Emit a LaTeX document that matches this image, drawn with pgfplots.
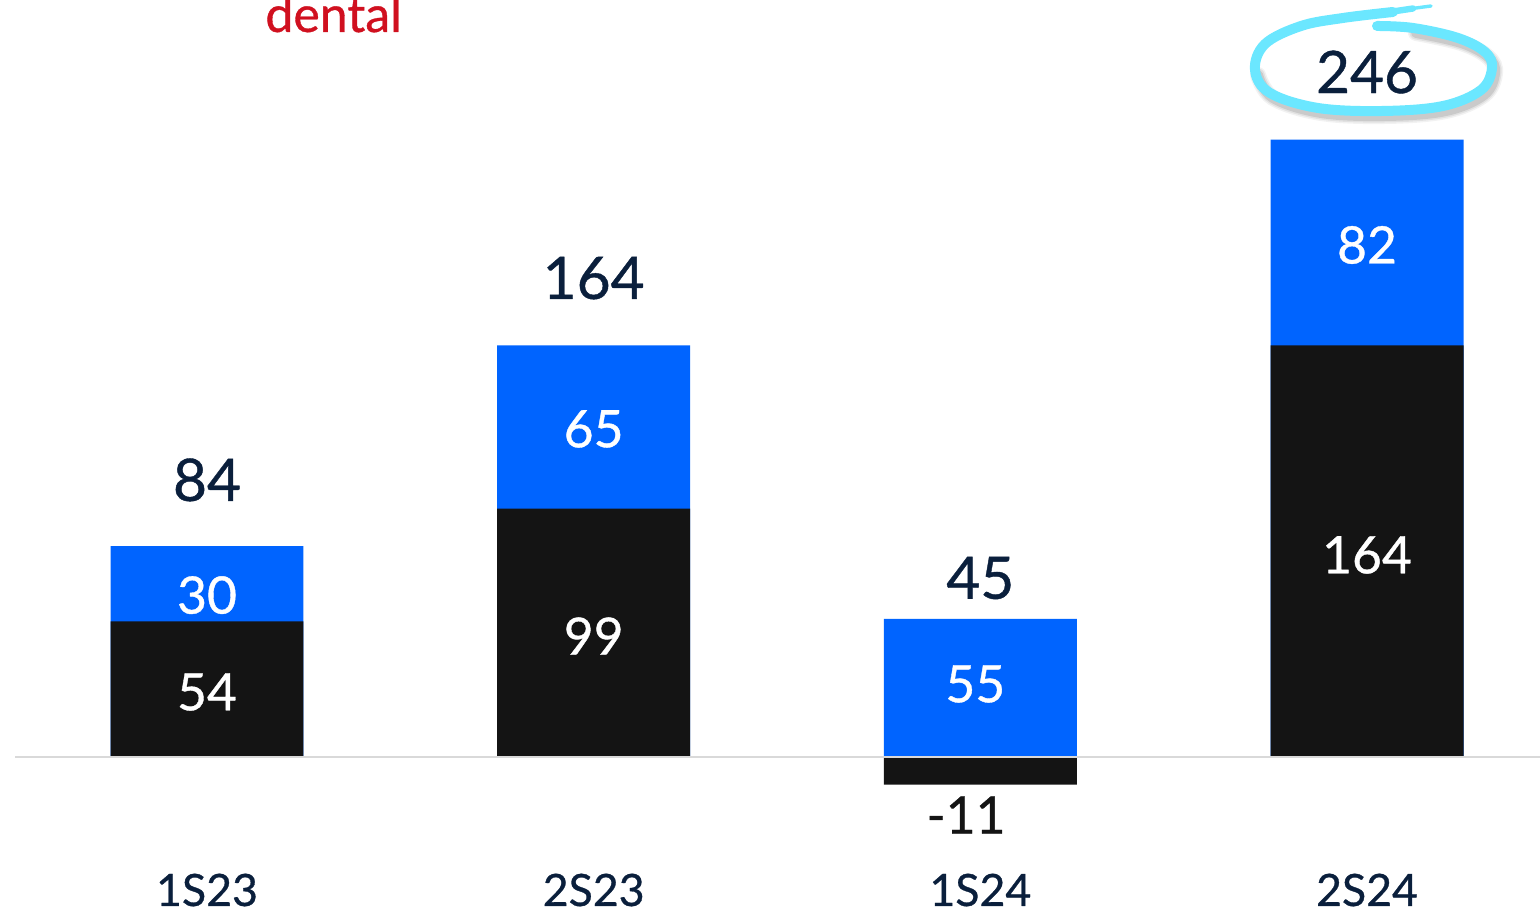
\documentclass[border=0pt]{standalone}
\usepackage{pgfplots}
\pgfplotsset{compat=1.18}
\usepackage{fontspec}
\setmainfont{Lato}[FakeBold=0.7]
\definecolor{barblue}{HTML}{0064FF}
\definecolor{barblack}{HTML}{141414}
\definecolor{navy}{HTML}{0A1F3C}
\definecolor{cyanring}{HTML}{6BE7FF}
\definecolor{dentalred}{HTML}{D0101F}
\definecolor{baseline}{HTML}{D9D9D9}
\newcommand{\tot}{\fontsize{29.3}{32}\selectfont}
\newcommand{\inn}{\fontsize{25.8}{28}\selectfont}
\begin{document}
\begin{tikzpicture}
\begin{axis}[at={(0,0)}, anchor=south west, scale only axis,
  width=762.5pt, height=456.5pt,
  xmin=-0.4966, xmax=3.4474, ymin=-62.15, ymax=301.6,
  axis line style={draw=none}, major tick length=0pt, ytick=\empty,
  xtick={0,1,2,3}, xticklabels={1S23,2S23,1S24,2S24},
  xticklabel style={anchor=base, inner sep=0pt, yshift=3.5pt, font=\fontsize{22.3}{26}\selectfont, text=navy},
  clip=false]
\addplot[ybar, bar width=0.499, bar shift=0pt, fill=barblue, draw=none] coordinates {(0,84) (1,164) (2,55) (3,246)};
\addplot[ybar, bar width=0.499, bar shift=0pt, fill=barblack, draw=none] coordinates {(0,54) (1,99) (2,-11) (3,164)};
\draw[color=baseline, line width=1pt] (axis cs:-0.4966,0) -- (axis cs:3.4474,0);
% totals
\node[text=navy, font=\tot] at (axis cs:0,110.4) {84};
\node[text=navy, font=\tot] at (axis cs:1,190.8) {164};
\node[text=navy, font=\tot] at (axis cs:2,71.3) {45};
\node[text=navy, font=\tot] at (axis cs:3,272.9) {246};
% segment labels
\node[text=white, font=\inn] at (axis cs:0,64.5) {30};
\node[text=white, font=\inn] at (axis cs:0,25.9) {54};
\node[text=white, font=\inn] at (axis cs:1,130.7) {65};
\node[text=white, font=\inn] at (axis cs:1,48.2) {99};
\node[text=white, font=\inn] at (axis cs:1.987,29.1) {55};
\node[text=barblack, font=\inn] at (axis cs:1.963,-23.1) {-11};
\node[text=white, font=\inn] at (axis cs:3,204.0) {82};
\node[text=white, font=\inn] at (axis cs:3,80.5) {164};
\end{axis}
% hand-drawn ring
\begin{scope}[shift={(679pt,422.5pt)}, x=0.5pt, y=-0.5pt]
\foreach \w/\o in {8pt/0.05, 6.5pt/0.07, 5pt/0.1} {
\draw[black, opacity=\o, line width=\w, line cap=round, shift={(3,5)}] plot[smooth, tension=0.6] coordinates {
 (40,-40) (85,-30) (112,-16) (119,0) (108,22) (70,38) (10,43) (-55,40) (-103,25) (-118,2)};
}
\draw[cyanring, line width=5pt, line cap=round] plot[smooth, tension=0.6] coordinates {
 (4,-42) (40,-40) (85,-30) (112,-16) (119,0) (108,22) (70,38) (10,43) (-55,40) (-103,25) (-118,2) (-108,-24) (-72,-42) (-30,-50) (20,-56)};
\draw[cyanring, line width=3.2pt, line cap=round] (18,-56.2) -- (40,-59.5);
\draw[cyanring, line width=1.7pt, line cap=round] (38,-59.3) -- (58,-62);
\end{scope}
\node[anchor=base west, inner sep=0pt, text=dentalred, font=\fontsize{25}{28}\selectfont] at (125pt,440.5pt) {dental};
\pgfresetboundingbox
\path[use as bounding box] (-7.5pt,0pt) rectangle (762.5pt,456.5pt);
\end{tikzpicture}
\end{document}
